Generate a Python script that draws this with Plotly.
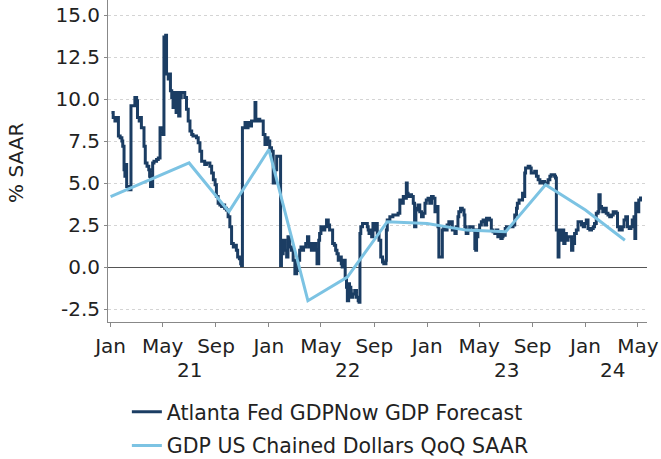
import plotly.graph_objects as go
import pandas as pd

# ---- Atlanta Fed GDPNow GDP Forecast (% SAAR) ----
gdpnow_dates = [
    "2021-01-03","2021-01-07","2021-01-11","2021-01-15","2021-01-19","2021-01-23","2021-01-27","2021-01-29",
    "2021-02-01","2021-02-03","2021-02-05","2021-02-07","2021-02-11","2021-02-15","2021-02-17","2021-02-22",
    "2021-02-26","2021-03-02","2021-03-04","2021-03-08","2021-03-11","2021-03-13","2021-03-17","2021-03-19",
    "2021-03-22","2021-03-26","2021-03-30","2021-04-01","2021-04-03","2021-04-06","2021-04-08","2021-04-11",
    "2021-04-17","2021-04-21","2021-04-25","2021-04-29","2021-05-02","2021-05-04","2021-05-08","2021-05-10",
    "2021-05-14","2021-05-16","2021-05-19","2021-05-22","2021-05-25","2021-05-28","2021-06-01","2021-06-04",
    "2021-06-07","2021-06-10","2021-06-13","2021-06-17","2021-06-21","2021-06-25","2021-06-29","2021-07-03",
    "2021-07-07","2021-07-10","2021-07-14","2021-07-18","2021-07-22","2021-07-26","2021-07-30","2021-08-03",
    "2021-08-06","2021-08-10","2021-08-14","2021-08-18","2021-08-22","2021-08-26","2021-08-30","2021-09-02",
    "2021-09-06","2021-09-10","2021-09-14","2021-09-18","2021-09-21","2021-09-25","2021-09-29","2021-10-03",
    "2021-10-07","2021-10-11","2021-10-15","2021-10-18","2021-10-21","2021-10-25","2021-10-28","2021-10-30",
    "2021-11-01","2021-11-07","2021-11-10","2021-11-14","2021-11-18","2021-11-22","2021-11-26","2021-11-30",
    "2021-12-02","2021-12-07","2021-12-11","2021-12-15","2021-12-19","2021-12-23","2021-12-27","2021-12-30",
    "2022-01-03","2022-01-07","2022-01-11","2022-01-15","2022-01-19","2022-01-22","2022-01-26","2022-01-28",
    "2022-01-30","2022-02-03","2022-02-07","2022-02-11","2022-02-14","2022-02-18","2022-02-22","2022-02-26",
    "2022-03-02","2022-03-06","2022-03-09","2022-03-13","2022-03-16","2022-03-19","2022-03-22","2022-03-27",
    "2022-03-31","2022-04-03","2022-04-05","2022-04-09","2022-04-13","2022-04-15","2022-04-19","2022-04-22",
    "2022-04-26","2022-04-28","2022-05-01","2022-05-05","2022-05-08","2022-05-10","2022-05-14","2022-05-18",
    "2022-05-21","2022-05-25","2022-05-28","2022-06-01","2022-06-04","2022-06-07","2022-06-10","2022-06-13",
    "2022-06-17","2022-06-19","2022-06-22","2022-06-26","2022-06-29","2022-07-01","2022-07-04","2022-07-06",
    "2022-07-09","2022-07-10","2022-07-14","2022-07-18","2022-07-22","2022-07-26","2022-07-28","2022-07-30",
    "2022-08-01","2022-08-05","2022-08-10","2022-08-16","2022-08-18","2022-08-20","2022-08-23","2022-08-26",
    "2022-08-29","2022-09-02","2022-09-05","2022-09-08","2022-09-12","2022-09-16","2022-09-20","2022-09-23",
    "2022-09-28","2022-09-29","2022-10-01","2022-10-07","2022-10-14","2022-10-22","2022-10-26","2022-10-30",
    "2022-11-03","2022-11-07","2022-11-10","2022-11-14","2022-11-16","2022-11-18","2022-11-22","2022-11-26",
    "2022-11-30","2022-12-03","2022-12-06","2022-12-09","2022-12-11","2022-12-15","2022-12-19","2022-12-23",
    "2022-12-27","2022-12-30","2023-01-03","2023-01-07","2023-01-11","2023-01-15","2023-01-19","2023-01-23",
    "2023-01-26","2023-01-28","2023-02-03","2023-02-05","2023-02-08","2023-02-13","2023-02-16","2023-02-20",
    "2023-02-22","2023-02-26","2023-02-28","2023-03-03","2023-03-06","2023-03-09","2023-03-13","2023-03-15",
    "2023-03-19","2023-03-23","2023-03-27","2023-03-29","2023-04-01","2023-04-05","2023-04-09","2023-04-13",
    "2023-04-17","2023-04-21","2023-04-23","2023-04-25","2023-04-26","2023-04-28","2023-05-02","2023-05-06",
    "2023-05-10","2023-05-14","2023-05-18","2023-05-21","2023-05-25","2023-05-29","2023-06-02","2023-06-06",
    "2023-06-10","2023-06-13","2023-06-17","2023-06-20","2023-06-23","2023-06-25","2023-06-27","2023-06-30",
    "2023-07-03","2023-07-10","2023-07-18","2023-07-22","2023-07-26","2023-07-28","2023-08-01","2023-08-05",
    "2023-08-09","2023-08-11","2023-08-14","2023-08-16","2023-08-18","2023-08-22","2023-08-26","2023-08-29",
    "2023-09-02","2023-09-06","2023-09-10","2023-09-14","2023-09-18","2023-09-21","2023-09-25","2023-09-29",
    "2023-10-03","2023-10-07","2023-10-11","2023-10-14","2023-10-18","2023-10-22","2023-10-24","2023-10-26",
    "2023-10-30","2023-11-01","2023-11-04","2023-11-06","2023-11-10","2023-11-12","2023-11-15","2023-11-18",
    "2023-11-22","2023-11-26","2023-11-30","2023-12-03","2023-12-07","2023-12-11","2023-12-15","2023-12-19",
    "2023-12-23","2023-12-27","2023-12-30","2024-01-03","2024-01-07","2024-01-11","2024-01-15","2024-01-19",
    "2024-01-22","2024-01-26","2024-01-30","2024-02-01","2024-02-04","2024-02-07","2024-02-10","2024-02-14",
    "2024-02-18","2024-02-22","2024-02-26","2024-03-01","2024-03-05","2024-03-08","2024-03-12","2024-03-15",
    "2024-03-19","2024-03-22","2024-03-26","2024-03-30","2024-04-03","2024-04-07","2024-04-11","2024-04-15",
    "2024-04-18","2024-04-22","2024-04-24","2024-04-26","2024-04-30","2024-05-03","2024-05-07",
]
gdpnow_values = [
    9.2, 8.9, 8.7, 8.9, 7.8, 7.7, 7.5, 7.2,
    5.8, 5.4, 6.1, 4.8, 4.6, 4.6, 9.6, 9.6,
    10.1, 9.9, 8.9, 8.7, 8.9, 8.3, 8.3, 7.2,
    6.2, 6.0, 5.8, 5.4, 4.8, 4.8, 6.2, 6.3,
    6.4, 6.5, 8.3, 8.3, 7.9, 13.7, 13.8, 11.5,
    11.2, 11.5, 10.5, 10.1, 9.5, 10.4, 9.2, 10.4,
    9.0, 10.1, 10.4, 10.4, 10.1, 9.4, 8.7, 8.1,
    7.9, 7.8, 7.8, 7.7, 7.4, 6.9, 6.3, 6.3,
    6.1, 6.2, 6.2, 6.0, 5.6, 5.2, 4.9, 4.2,
    3.8, 3.7, 3.6, 3.7, 3.5, 3.4, 3.0, 2.4,
    1.4, 1.2, 1.3, 1.0, 0.6, 0.5, 0.2, 0.1,
    8.3, 8.6, 8.3, 8.6, 8.4, 8.7, 8.7, 9.8,
    8.7, 8.8, 8.7, 8.7, 7.9, 7.3, 7.7, 7.5,
    7.1, 6.9, 5.0, 5.8, 6.6, 6.6, 6.6, 0.1,
    0.8, 1.6, 1.0, 0.6, 1.8, 1.2, 1.0, 0.4,
    -0.4, -0.2, 0.4, 1.0, 1.2, 1.0, 1.2, 1.4,
    1.8, 1.2, 1.4, 1.0, 1.2, 1.4, 1.0, 0.2,
    1.6, 2.0, 2.4, 2.2, 2.2, 2.4, 2.8, 2.5,
    2.2, 2.2, 1.4, 1.3, 1.0, 0.8, 0.4, 0.6,
    0.2, 0.0, 0.4, -0.6, -1.2, -2.0, -1.0, -1.2,
    -1.4, -1.8, -1.6, -1.4, -1.8, -2.0, -2.1, 2.0,
    2.4, 2.6, 2.6, 2.4, 2.2, 2.0, 2.2, 1.8,
    2.6, 2.2, 2.6, 2.0, 1.6, 0.6, 0.3, 0.2,
    0.4, 2.2, 2.8, 3.0, 3.1, 3.1, 3.2, 4.0,
    3.8, 4.2, 4.1, 5.0, 4.4, 4.2, 4.3, 4.2,
    3.8, 2.4, 3.4, 3.5, 3.7, 3.3, 3.0, 3.2,
    3.8, 4.0, 4.1, 3.8, 4.2, 4.1, 3.3, 3.6,
    2.4, 0.6, 0.6, 2.2, 2.4, 2.2, 2.5, 2.7,
    2.6, 2.7, 2.2, 2.3, 2.0, 2.4, 3.0, 3.3,
    3.5, 3.4, 3.1, 2.4, 2.0, 2.2, 2.4, 2.4,
    2.2, 1.1, 1.0, 2.0, 1.8, 2.2, 2.5, 2.7,
    2.8, 2.5, 2.9, 2.9, 2.8, 2.2, 2.1, 2.0,
    2.2, 1.8, 2.1, 1.7, 1.8, 2.0, 1.9, 2.3,
    2.4, 2.4, 2.5, 3.1, 3.5, 3.8, 4.0, 4.0,
    4.4, 4.2, 5.6, 5.9, 5.9, 6.0, 5.9, 5.6,
    5.6, 5.7, 5.4, 5.2, 5.0, 5.0, 5.1, 4.9,
    5.0, 5.2, 5.4, 5.5, 5.5, 5.4, 5.3, 2.2,
    0.6, 2.0, 2.2, 1.6, 2.2, 1.4, 2.0, 1.6,
    1.8, 1.8, 1.0, 1.4, 2.0, 2.2, 2.7, 2.7,
    2.5, 2.4, 2.6, 2.8, 2.3, 2.2, 2.3, 2.4,
    2.6, 3.2, 3.3, 4.3, 3.6, 3.5, 3.3, 3.5,
    3.2, 3.1, 3.0, 3.1, 3.3, 3.3, 3.2, 2.4,
    2.2, 2.2, 2.4, 2.8, 3.0, 2.4, 2.3, 2.4,
    2.8, 3.0, 1.7, 3.8, 3.3, 4.0, 4.2,
]

# ---- GDP US Chained Dollars QoQ SAAR (quarterly) ----
gdp_dates = [
    "2021-01-01","2021-04-01","2021-07-01","2021-10-01","2022-01-01","2022-04-01","2022-07-01",
    "2022-10-01","2023-01-01","2023-04-01","2023-07-01","2023-10-01","2024-01-01","2024-04-01",
]
gdp_values = [4.2, 5.2, 6.2, 3.3, 7.0, -2.0, -0.6, 2.7, 2.6, 2.2, 2.1, 4.9, 3.4, 1.6]

series_names = ["Atlanta Fed GDPNow GDP Forecast", "GDP US Chained Dollars QoQ SAAR"]
year_labels = ["21", "22", "23", "24"]
year_starts = ["2021-01-01", "2022-01-01", "2023-01-01", "2024-01-01"]
y_tick_vals = [-2.5, 0.0, 2.5, 5.0, 7.5, 10.0, 12.5, 15.0]
y_tick_text = ["-2.5", "0.0", "2.5", "5.0", "7.5", "10.0", "12.5", "15.0"]
x_range = ["2020-12-26", "2024-05-22"]
y_range = [-3.27, 15.9]

DARK = "#1b3d63"
LIGHT = "#7cc3e3"
TEXT = "#222222"
FONT = "DejaVu Sans"
FS = 20

fig = go.Figure()
fig.add_trace(go.Scatter(
    x=gdpnow_dates, y=gdpnow_values, mode="lines", name=series_names[0],
    line=dict(color=DARK, width=3, shape="hv"), legendgroup="a",
))
fig.add_trace(go.Scatter(
    x=gdp_dates, y=gdp_values, mode="lines", name=series_names[1],
    line=dict(color=LIGHT, width=3), legendgroup="b",
))

annotations = []
last_date = pd.Timestamp(gdpnow_dates[-1])
for i, (lab, start) in enumerate(zip(year_labels, year_starts)):
    s = pd.Timestamp(start)
    e = pd.Timestamp(year_starts[i + 1]) if i + 1 < len(year_starts) else last_date
    mid = s + (e - s) / 2
    annotations.append(dict(
        x=mid.strftime("%Y-%m-%d"), y=-0.15, xref="x", yref="paper",
        text=lab, showarrow=False, font=dict(family=FONT, size=FS, color=TEXT),
        xanchor="center", yanchor="middle",
    ))
annotations.append(dict(
    x=-0.1707, y=0.494, xref="paper", yref="paper", text="% SAAR", textangle=-90,
    showarrow=False, font=dict(family=FONT, size=FS, color=TEXT),
    xanchor="center", yanchor="middle",
))

fig.update_layout(
    width=661, height=459,
    margin=dict(l=108, r=14, t=0, b=137, autoexpand=False),
    paper_bgcolor="white", plot_bgcolor="white",
    font=dict(family=FONT, size=FS, color=TEXT),
    showlegend=True,
    legend=dict(
        orientation="v", x=0.035, y=-0.2174, xanchor="left", yanchor="top",
        font=dict(family=FONT, size=20.5, color=TEXT),
        itemwidth=30, tracegroupgap=4, bgcolor="rgba(0,0,0,0)",
    ),
    annotations=annotations,
    xaxis=dict(
        type="date", range=x_range, tick0="2021-01-01", dtick="M4", tickformat="%b",
        ticks="outside", ticklen=4, tickcolor="#888888", tickwidth=1,
        showline=True, linecolor="#888888", linewidth=1,
        showgrid=False, zeroline=False, ticklabelstandoff=2,
        tickfont=dict(family=FONT, size=FS, color=TEXT),
    ),
    xaxis2=dict(
        type="date", range=x_range, overlaying="x", anchor="y", side="bottom",
        tick0="2021-01-01", dtick="M12", ticks="outside", ticklen=7,
        tickcolor="#888888", tickwidth=1, showticklabels=False,
        showline=False, showgrid=False, zeroline=False,
    ),
    yaxis=dict(
        range=y_range, tickmode="array", tickvals=y_tick_vals, ticktext=y_tick_text,
        ticks="outside", ticklen=3, tickcolor="#888888",
        showline=True, linecolor="#888888", linewidth=1,
        showgrid=True, gridcolor="#d4d4d4", griddash="dot", gridwidth=1,
        zeroline=True, zerolinecolor="#555555", zerolinewidth=1,
        tickfont=dict(family=FONT, size=FS, color=TEXT),
    ),
)

fig.write_html("out.html")
